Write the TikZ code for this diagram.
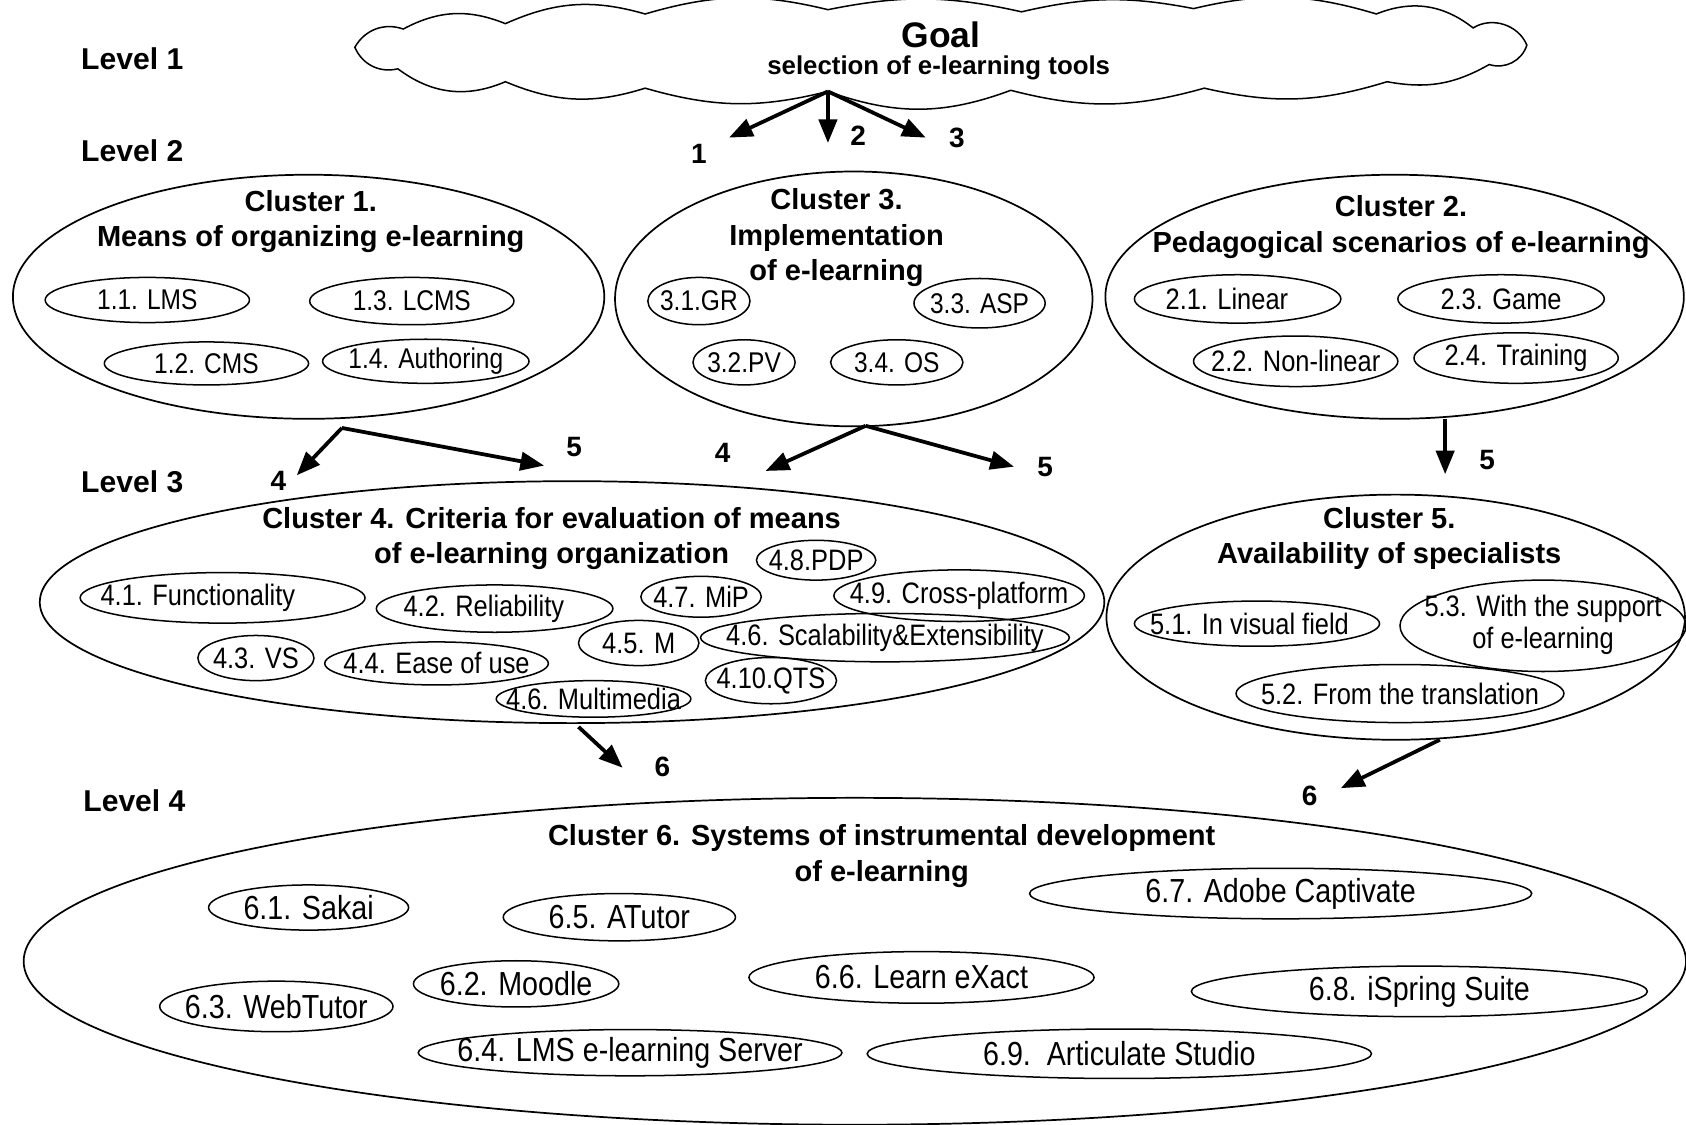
\documentclass[tikz,border=0pt]{standalone}
\usepackage{fontspec}
\setmainfont{Liberation Sans}
\newfontfamily\condfont[FakeStretch=0.86]{Liberation Sans}
\usetikzlibrary{arrows.meta, shapes.geometric}
\newcommand{\ot}[1]{\makebox[0pt]{#1}}

\begin{document}
\begin{tikzpicture}[x=1pt, y=-1pt,
  cluster/.style={draw, ellipse, line width=1.6pt, inner sep=0pt},
  oval/.style={draw, ellipse, line width=1.4pt, inner sep=0pt, font=\condfont\fontsize{26.5}{30}\selectfont},
  big/.style={oval, font=\condfont\fontsize{31}{35}\selectfont},
  mid/.style={oval, font=\condfont\fontsize{27.5}{30}\selectfont},
  ttl/.style={align=center, font=\bfseries\fontsize{27}{33}\selectfont},
  lvl/.style={anchor=west, font=\bfseries\fontsize{28}{32}\selectfont},
  num/.style={font=\bfseries\fontsize{26}{30}\selectfont},
  arr/.style={-{Triangle[length=22pt,width=17pt]}, line width=3.5pt}]
\useasboundingbox (0,0) rectangle (1568,1046);

% Levels
\node[lvl] (l1) at (72,55) {Level 1};
\node[lvl] (l2) at (72,140) {Level 2};
\node[lvl] (l3) at (72,448) {Level 3};
\node[lvl] (l4) at (74,745) {Level 4};

% Goal cloud
\draw[line width=1.4pt] (330,44) to[bend left=40] (375,27) to[bend left=25] (470,22)
  to[bend left=20] (600,13) to[bend left=15] (770,9) to[bend left=12] (950,11)
  to[bend left=12] (1110,8) to[bend left=15] (1280,13) to[bend left=30] (1370,26)
  to[bend left=50] (1420,42) to[bend left=45] (1385,60) to[bend left=20] (1290,76)
  to[bend left=15] (1120,82) to[bend left=15] (940,84) to[bend left=20] (770,85)
  to[bend left=15] (600,82) to[bend left=20] (470,76) to[bend left=30] (370,64)
  to[bend left=40] cycle;
\node[font=\bfseries\fontsize{33}{36}\selectfont] (goalt) at (875,32) {Goal};
\node[font=\bfseries\fontsize{24}{28}\selectfont] (goals) at (873,63) {selection of e-learning tools};

% Level 2
\node[cluster, minimum width=550pt, minimum height=227pt] (c1) at (287,276) {};
\node[ttl] (c1t) at (289,206) {Cluster 1.\\Means of organizing e-learning};
\node[oval, minimum width=190pt, minimum height=42pt] (i11) at (137,279) {\ot{1.1. LMS}};
\node[oval, minimum width=190pt, minimum height=44pt] (i13) at (383,280) {\ot{1.3. LCMS}};
\node[oval, minimum width=190pt, minimum height=40pt] (i12) at (192,338) {\ot{1.2. CMS}};
\node[oval, minimum width=192pt, minimum height=41pt] (i14) at (396,336) {\ot{1.4. Authoring}};

\node[cluster, minimum width=444pt, minimum height=237pt] (c3) at (794,278) {};
\node[ttl] (c3t) at (778,221) {Cluster 3.\\Implementation\\of e-learning};
\node[oval, minimum width=95pt, minimum height=44pt] (i31) at (650,280) {\ot{3.1.GR}};
\node[oval, minimum width=122pt, minimum height=46pt] (i33) at (911,282) {\ot{3.3. ASP}};
\node[oval, minimum width=95pt, minimum height=42pt] (i32) at (692,337) {\ot{3.2.PV}};
\node[oval, minimum width=123pt, minimum height=42pt] (i34) at (834,337) {\ot{3.4. OS}};

\node[cluster, minimum width=538pt, minimum height=227pt] (c2) at (1297,276) {};
\node[ttl] (c2t) at (1303,211) {Cluster 2.\\Pedagogical scenarios of e-learning};
\node[mid, minimum width=192pt, minimum height=45pt] (i21) at (1151,278) {\ot{\hspace*{-20pt}2.1. Linear}};
\node[mid, minimum width=192pt, minimum height=45pt] (i23) at (1396,278) {\ot{2.3. Game}};
\node[mid, minimum width=190pt, minimum height=47pt] (i22) at (1205,336) {\ot{2.2. Non-linear}};
\node[mid, minimum width=190pt, minimum height=47pt] (i24) at (1410,333) {\ot{2.4. Training}};

% Level 3
\node[cluster, minimum width=990pt, minimum height=225pt] (c4) at (532,560) {};
\node[ttl] (c4t) at (513,501) {Cluster 4. Criteria for evaluation of means\\of e-learning organization};
\node[mid, minimum width=111pt, minimum height=37pt] (i48) at (759,521) {\ot{4.8.PDP}};
\node[mid, minimum width=265pt, minimum height=47pt] (i41) at (207,556) {\ot{\hspace*{-46pt}4.1. Functionality}};
\node[mid, minimum width=220pt, minimum height=44pt] (i42) at (460,566) {\ot{\hspace*{-20pt}4.2. Reliability}};
\node[mid, minimum width=112pt, minimum height=38pt] (i47) at (652,555) {\ot{4.7. MiP}};
\node[mid, minimum width=233pt, minimum height=48pt] (i49) at (892,554) {\ot{4.9. Cross-platform}};
\node[mid, minimum width=108pt, minimum height=42pt] (i43) at (238,612) {\ot{4.3. VS}};
\node[mid, minimum width=208pt, minimum height=40pt] (i44) at (406,617) {\ot{4.4. Ease of use}};
\node[mid, minimum width=112pt, minimum height=42pt] (i45) at (594,598) {\ot{4.5. M}};
\node[mid, minimum width=343pt, minimum height=45pt] (i46) at (823,593) {\ot{4.6. Scalability\&Extensibility}};
\node[mid, minimum width=122pt, minimum height=43pt] (i410) at (717,633) {\ot{4.10.QTS}};
\node[mid, minimum width=181pt, minimum height=34pt] (i46m) at (552,650) {\ot{4.6. Multimedia}};

\node[cluster, minimum width=538pt, minimum height=228pt] (c5) at (1298,574) {};
\node[ttl] (c5t) at (1292,501) {Cluster 5.\\Availability of specialists};
\node[mid, minimum width=228pt, minimum height=42pt] (i51) at (1169,580) {\ot{\hspace*{-14pt}5.1. In visual field}};
\node[mid, minimum width=266pt, minimum height=85pt] (i53) at (1435,582) {\ot{\begin{tabular}{@{}c@{}}5.3. With the support\\of e-learning\end{tabular}}};
\node[mid, minimum width=305pt, minimum height=54pt] (i52) at (1302,645) {\ot{5.2. From the translation}};

% Level 4
\node[cluster, minimum width=1546pt, minimum height=304pt] (c6) at (795,894) {};
\node[ttl] (c6t) at (820,796) {Cluster 6. Systems of instrumental development\\of e-learning};
\node[big, minimum width=186pt, minimum height=42pt] (i61) at (287,844) {\ot{6.1. Sakai}};
\node[big, minimum width=216pt, minimum height=44pt] (i65) at (576,853) {\ot{6.5. ATutor}};
\node[big, minimum width=467pt, minimum height=47pt] (i67) at (1191,831) {\ot{6.7. Adobe Captivate}};
\node[big, minimum width=217pt, minimum height=47pt] (i63) at (257,936) {\ot{6.3. WebTutor}};
\node[big, minimum width=191pt, minimum height=43pt] (i62) at (480,915) {\ot{6.2. Moodle}};
\node[big, minimum width=321pt, minimum height=48pt] (i66) at (857,909) {\ot{6.6. Learn eXact}};
\node[big, minimum width=424pt, minimum height=47pt] (i68) at (1320,922) {\ot{6.8. iSpring Suite}};
\node[big, minimum width=394pt, minimum height=43pt] (i64) at (586,979) {\ot{6.4. LMS e-learning Server}};
\node[big, minimum width=469pt, minimum height=46pt] (i69) at (1041,980) {\ot{6.9.\ \ Articulate Studio}};

% Arrows and their numbers
\coordinate (g0) at (770,85);
\coordinate (e1) at (678,128);
\coordinate (e2) at (770,133);
\coordinate (e3) at (861,128);
\node[num] (n1) at (650,143) {1};
\node[num] (n2) at (798,126) {2};
\node[num] (n3) at (890,128) {3};
\draw[arr] (g0) -- (e1);
\draw[arr] (g0) -- (e2);
\draw[arr] (g0) -- (e3);

\coordinate (p1) at (318,398);
\coordinate (e4a) at (276,442);
\coordinate (e5a) at (506,433);
\node[num] (n4a) at (259,447) {4};
\node[num] (n5a) at (534,416) {5};
\draw[arr] (p1) -- (e4a);
\draw[arr] (p1) -- (e5a);

\coordinate (p3) at (805,396);
\coordinate (e4b) at (712,438);
\coordinate (e5b) at (943,434);
\node[num] (n4b) at (672,421) {4};
\node[num] (n5b) at (972,434) {5};
\draw[arr] (p3) -- (e4b);
\draw[arr] (p3) -- (e5b);

\coordinate (p2) at (1344,390);
\coordinate (e5c) at (1344,441);
\node[num] (n5c) at (1383,428) {5};
\draw[arr] (p2) -- (e5c);

\coordinate (p4) at (538,676);
\coordinate (e6a) at (579,714);
\node[num] (n6a) at (616,713) {6};
\draw[arr] (p4) -- (e6a);

\coordinate (p5) at (1339,688);
\coordinate (e6b) at (1247,733);
\node[num] (n6b) at (1218,740) {6};
\draw[arr] (p5) -- (e6b);

\end{tikzpicture}
\end{document}
